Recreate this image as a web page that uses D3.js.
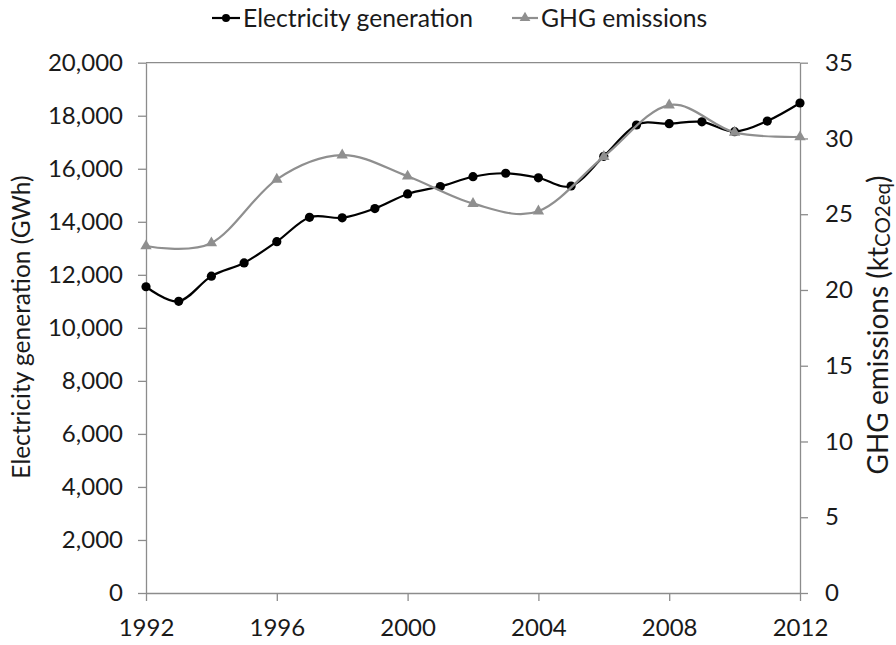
<!DOCTYPE html>
<html><head><meta charset="utf-8">
<script src="https://cdn.jsdelivr.net/npm/d3@7"></script>
<style>
body{margin:0;background:#fff}
text{font-family:Lato,"Open Sans",sans-serif;fill:#1a1a1a}
</style>
</head><body>
<svg id="c" width="896" height="645"></svg>
<script>
const years = [1992,1993,1994,1995,1996,1997,1998,1999,2000,2001,2002,2003,2004,2005,2006,2007,2008,2009,2010,2011,2012];
const electricity = [11550,11000,11950,12450,13250,14170,14150,14500,15050,15330,15700,15830,15660,15350,16470,17650,17700,17770,17400,17800,18480];
const ghgYears = [1992,1994,1996,1998,2000,2002,2004,2006,2008,2010,2012];
const ghg = [22.9,23.1,27.3,28.9,27.5,25.7,25.2,28.8,32.2,30.4,30.1];
const leftTicks = [0,2000,4000,6000,8000,10000,12000,14000,16000,18000,20000];
const rightTicks = [0,5,10,15,20,25,30,35];
const xTicks = [1992,1996,2000,2004,2008,2012];

const svg = d3.select("#c");
const L = 146, R = 800, T = 62.7, B = 593;
const axisColor = "#8c8c8c";
const ghgColor = "#8f8f8f";

const x = d3.scaleLinear().domain([1992,2012]).range([L,R]);
const yL = d3.scaleLinear().domain([0,20000]).range([B,T]);
const yR = d3.scaleLinear().domain([0,35]).range([B,T]);

function styleAxis(g){
  g.selectAll("path.domain").attr("stroke",axisColor).attr("stroke-width",1.3);
  g.selectAll(".tick line").attr("stroke",axisColor).attr("stroke-width",1.3);
  g.selectAll(".tick text").attr("fill","#1a1a1a").style("font-size","24px").style("font-family","Lato, 'Open Sans', sans-serif");
}

// top frame line
svg.append("line").attr("x1",L).attr("x2",R).attr("y1",T).attr("y2",T)
  .attr("stroke",axisColor).attr("stroke-width",1.3);

const gl = svg.append("g").attr("transform",`translate(${L},0)`)
  .call(d3.axisLeft(yL).tickValues(leftTicks).tickFormat(d3.format(",")).tickSize(8).tickSizeOuter(0).tickPadding(15));
styleAxis(gl);
const gr = svg.append("g").attr("transform",`translate(${R},0)`)
  .call(d3.axisRight(yR).tickValues(rightTicks).tickSize(8).tickSizeOuter(0).tickPadding(17));
styleAxis(gr);
const gb = svg.append("g").attr("transform",`translate(0,${B})`)
  .call(d3.axisBottom(x).tickValues(xTicks).tickFormat(d3.format("d")).tickSize(8).tickSizeOuter(0).tickPadding(18));
styleAxis(gb);

// axis titles
svg.append("text").attr("transform",`translate(30,327) rotate(-90)`)
  .attr("text-anchor","middle").style("font-size","24.5px").text("Electricity generation (GWh)");
const rt = svg.append("text").attr("transform",`translate(888,325) rotate(-90)`)
  .attr("text-anchor","middle").style("font-size","28px");
rt.append("tspan").text("GHG emissions (kt");
rt.append("tspan").style("font-size","20.5px").attr("dy","2").text("CO2eq");
rt.append("tspan").attr("dy","-2").text(")");

const curve = d3.curveCatmullRom.alpha(0);

// electricity series
const lineE = d3.line().x((d,i)=>x(years[i])).y(d=>yL(d)).curve(curve);
svg.append("path").attr("d",lineE(electricity)).attr("fill","none")
  .attr("stroke","#000").attr("stroke-width",2.2);
svg.append("g").selectAll("circle").data(electricity).join("circle")
  .attr("cx",(d,i)=>x(years[i])).attr("cy",d=>yL(d)).attr("r",4.6).attr("fill","#000");

// ghg series
const lineG = d3.line().x((d,i)=>x(ghgYears[i])).y(d=>yR(d)).curve(curve);
svg.append("path").attr("d",lineG(ghg)).attr("fill","none")
  .attr("stroke",ghgColor).attr("stroke-width",2.2);
const tri = d3.symbol().type(d3.symbolTriangle).size(56);
svg.append("g").selectAll("path").data(ghg).join("path")
  .attr("transform",(d,i)=>`translate(${x(ghgYears[i])},${yR(d)})`)
  .attr("d",tri).attr("fill",ghgColor);

// legend
const lg = svg.append("g");
lg.append("line").attr("x1",212).attr("x2",240).attr("y1",18).attr("y2",18).attr("stroke","#000").attr("stroke-width",2.2);
lg.append("circle").attr("cx",226).attr("cy",18).attr("r",4).attr("fill","#000");
lg.append("text").attr("x",243).attr("y",27).style("font-size","24.7px").text("Electricity generation");
lg.append("line").attr("x1",512).attr("x2",538).attr("y1",18).attr("y2",18).attr("stroke",ghgColor).attr("stroke-width",2.2);
lg.append("path").attr("transform","translate(525,18)").attr("d",d3.symbol().type(d3.symbolTriangle).size(50)).attr("fill",ghgColor);
lg.append("text").attr("x",541).attr("y",27).style("font-size","24.7px").text("GHG emissions");
</script>
</body></html>
